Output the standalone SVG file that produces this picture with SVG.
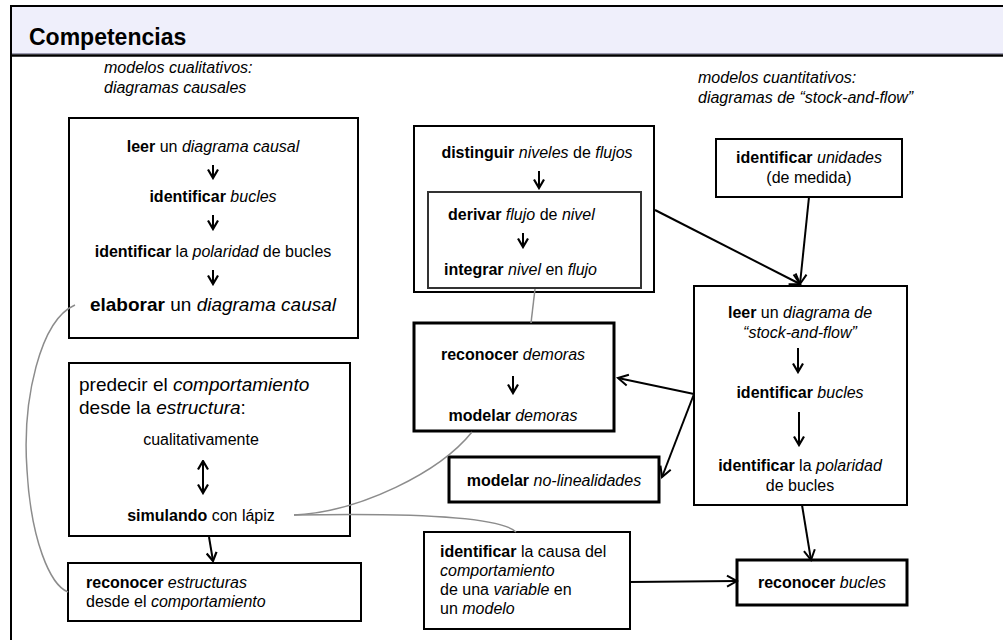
<svg xmlns="http://www.w3.org/2000/svg" width="1003" height="640" viewBox="0 0 1003 640">
<style>
.t{font-family:"Liberation Sans",Arial,sans-serif;font-size:16px;fill:#000}
.b{font-weight:bold}
.i{font-style:italic}
.box{fill:#fff;stroke:#000;stroke-width:2}
.thick{stroke-width:3}
.conn{stroke:#000;stroke-width:2;fill:none}
.gray{stroke:#8c8c8c;stroke-width:1.5;fill:none}
</style>
<defs>
<marker id="ah" viewBox="0 0 14 14" refX="12" refY="7" markerWidth="14" markerHeight="14" markerUnits="userSpaceOnUse" orient="auto-start-reverse">
<path d="M2,1.5 L12,7 L2,12.5" fill="none" stroke="#000" stroke-width="2"/>
</marker>
<marker id="sm" viewBox="0 0 12 12" refX="10.5" refY="6" markerWidth="12" markerHeight="12" markerUnits="userSpaceOnUse" orient="auto-start-reverse">
<path d="M2,1 L10.5,6 L2,11" fill="none" stroke="#000" stroke-width="2.2"/>
</marker>
</defs>
<rect x="0" y="0" width="1003" height="640" fill="#fff"/>
<g id="frame">
<rect x="11" y="6" width="1000" height="49" fill="#efeffb"/>
<line x1="11" y1="53.5" x2="1003" y2="53.5" stroke="#9a9ab0" stroke-width="1"/>
<line x1="11" y1="6" x2="1003" y2="6" stroke="#000" stroke-width="2"/>
<line x1="11" y1="55.5" x2="1003" y2="55.5" stroke="#000" stroke-width="2.5"/>
<line x1="11" y1="5" x2="11" y2="640" stroke="#000" stroke-width="2"/>
<text class="t b" x="29" y="45" style="font-size:23px">Competencias</text>
<text class="t i" x="104" y="73">modelos cualitativos:</text>
<text class="t i" x="104" y="93">diagramas causales</text>
<text class="t i" x="698" y="83">modelos cuantitativos:</text>
<text class="t i" x="698" y="103">diagramas de “stock-and-flow”</text>
</g>
<g id="causal">
<rect class="box" x="69" y="118" width="289" height="220"/>
<text class="t" x="213" y="152" text-anchor="middle"><tspan class="b">leer</tspan> un <tspan class="i">diagrama causal</tspan></text>
<line class="conn" x1="213" y1="165" x2="213" y2="178" marker-end="url(#sm)"/>
<text class="t" x="213" y="202" text-anchor="middle"><tspan class="b">identificar</tspan> <tspan class="i">bucles</tspan></text>
<line class="conn" x1="213" y1="215" x2="213" y2="229" marker-end="url(#sm)"/>
<text class="t" x="213" y="257" text-anchor="middle"><tspan class="b">identificar</tspan> la <tspan class="i">polaridad</tspan> de bucles</text>
<line class="conn" x1="213" y1="270" x2="213" y2="284" marker-end="url(#sm)"/>
<text class="t" x="213" y="311" text-anchor="middle" style="font-size:19px"><tspan class="b">elaborar</tspan> un <tspan class="i">diagrama causal</tspan></text>
</g>
<g id="predecir">
<rect class="box" x="69" y="363" width="281" height="173"/>
<text class="t" x="79" y="391" style="font-size:19px">predecir el <tspan class="i">comportamiento</tspan></text>
<text class="t" x="79" y="414" style="font-size:19px">desde la <tspan class="i">estructura</tspan>:</text>
<text class="t" x="201" y="445" text-anchor="middle">cualitativamente</text>
<line class="conn" x1="203" y1="461" x2="203" y2="493" marker-start="url(#sm)" marker-end="url(#sm)"/>
<text class="t" x="201" y="521" text-anchor="middle"><tspan class="b">simulando</tspan> con lápiz</text>
</g>
<g id="estructuras">
<rect class="box" x="68" y="563" width="293" height="58"/>
<text class="t" x="86" y="588"><tspan class="b">reconocer</tspan> <tspan class="i">estructuras</tspan></text>
<text class="t" x="86" y="607">desde el <tspan class="i">comportamiento</tspan></text>
</g>
<g id="distinguir">
<rect class="box" x="414" y="126" width="240" height="166"/>
<text class="t" x="537" y="158" text-anchor="middle"><tspan class="b">distinguir</tspan> <tspan class="i">niveles</tspan> de <tspan class="i">flujos</tspan></text>
<line class="conn" x1="539" y1="171" x2="539" y2="188" marker-end="url(#sm)"/>
</g>
<g id="derivar">
<rect x="428" y="192" width="213" height="96" fill="#fff" stroke="#333" stroke-width="2"/>
<text class="t" x="448" y="220"><tspan class="b">derivar</tspan> <tspan class="i">flujo</tspan> de <tspan class="i">nivel</tspan></text>
<line class="conn" x1="523" y1="233" x2="523" y2="247" marker-end="url(#sm)"/>
<text class="t" x="444" y="275"><tspan class="b">integrar</tspan> <tspan class="i">nivel</tspan> en <tspan class="i">flujo</tspan></text>
</g>
<g id="demoras">
<rect class="box thick" x="414" y="323" width="200" height="108"/>
<text class="t" x="513" y="360" text-anchor="middle"><tspan class="b">reconocer</tspan> <tspan class="i">demoras</tspan></text>
<line class="conn" x1="513" y1="376" x2="513" y2="393" marker-end="url(#sm)"/>
<text class="t" x="513" y="421" text-anchor="middle"><tspan class="b">modelar</tspan> <tspan class="i">demoras</tspan></text>
</g>
<g id="nolineal">
<rect class="box thick" x="449" y="457" width="210" height="45"/>
<text class="t" x="554" y="486" text-anchor="middle"><tspan class="b">modelar</tspan> <tspan class="i">no-linealidades</tspan></text>
</g>
<g id="unidades">
<rect class="box" x="716" y="139" width="186" height="58"/>
<text class="t" x="809" y="163" text-anchor="middle"><tspan class="b">identificar</tspan> <tspan class="i">unidades</tspan></text>
<text class="t" x="809" y="183" text-anchor="middle">(de medida)</text>
</g>
<g id="stockflow">
<rect class="box" x="694" y="286" width="213" height="219"/>
<text class="t" x="800" y="318" text-anchor="middle"><tspan class="b">leer</tspan> un <tspan class="i">diagrama de</tspan></text>
<text class="t i" x="800" y="338" text-anchor="middle">“stock-and-flow”</text>
<line class="conn" x1="798" y1="348" x2="798" y2="372" marker-end="url(#sm)"/>
<text class="t" x="800" y="398" text-anchor="middle"><tspan class="b">identificar</tspan> <tspan class="i">bucles</tspan></text>
<line class="conn" x1="799" y1="412" x2="799" y2="445" marker-end="url(#sm)"/>
<text class="t" x="800" y="471" text-anchor="middle"><tspan class="b">identificar</tspan> la <tspan class="i">polaridad</tspan></text>
<text class="t" x="800" y="491" text-anchor="middle">de bucles</text>
</g>
<g id="causa">
<rect class="box" x="424" y="532" width="206" height="97"/>
<text class="t" x="440" y="557"><tspan class="b">identificar</tspan> la causa del</text>
<text class="t i" x="440" y="576">comportamiento</text>
<text class="t" x="440" y="595">de una <tspan class="i">variable</tspan> en</text>
<text class="t" x="440" y="614">un <tspan class="i">modelo</tspan></text>
</g>
<g id="bucles">
<rect class="box thick" x="737" y="560" width="170" height="45"/>
<text class="t" x="822" y="588" text-anchor="middle"><tspan class="b">reconocer</tspan> <tspan class="i">bucles</tspan></text>
</g>
<g id="connectors">
<path class="gray" d="M75,305 C40,320 22,400 27,470 C31,540 50,585 68,592"/>
<path class="gray" d="M294,515 C360,512 440,472 472,432"/>
<path class="gray" d="M294,515 C400,513 500,516 516,532"/>
<path class="gray" d="M535,289 L531,323"/>
<line class="conn" x1="655" y1="210" x2="800" y2="284" marker-end="url(#ah)"/>
<line class="conn" x1="809" y1="197" x2="800" y2="284" marker-end="url(#ah)"/>
<line class="conn" x1="694" y1="394" x2="618" y2="378" marker-end="url(#ah)"/>
<line class="conn" x1="694" y1="394" x2="662" y2="477" marker-end="url(#ah)"/>
<line class="conn" x1="802" y1="505" x2="811" y2="560" marker-end="url(#ah)"/>
<line class="conn" x1="630" y1="582" x2="737" y2="581" marker-end="url(#ah)"/>
<line class="conn" x1="209" y1="537" x2="213" y2="561" marker-end="url(#sm)"/>
</g>
</svg>
